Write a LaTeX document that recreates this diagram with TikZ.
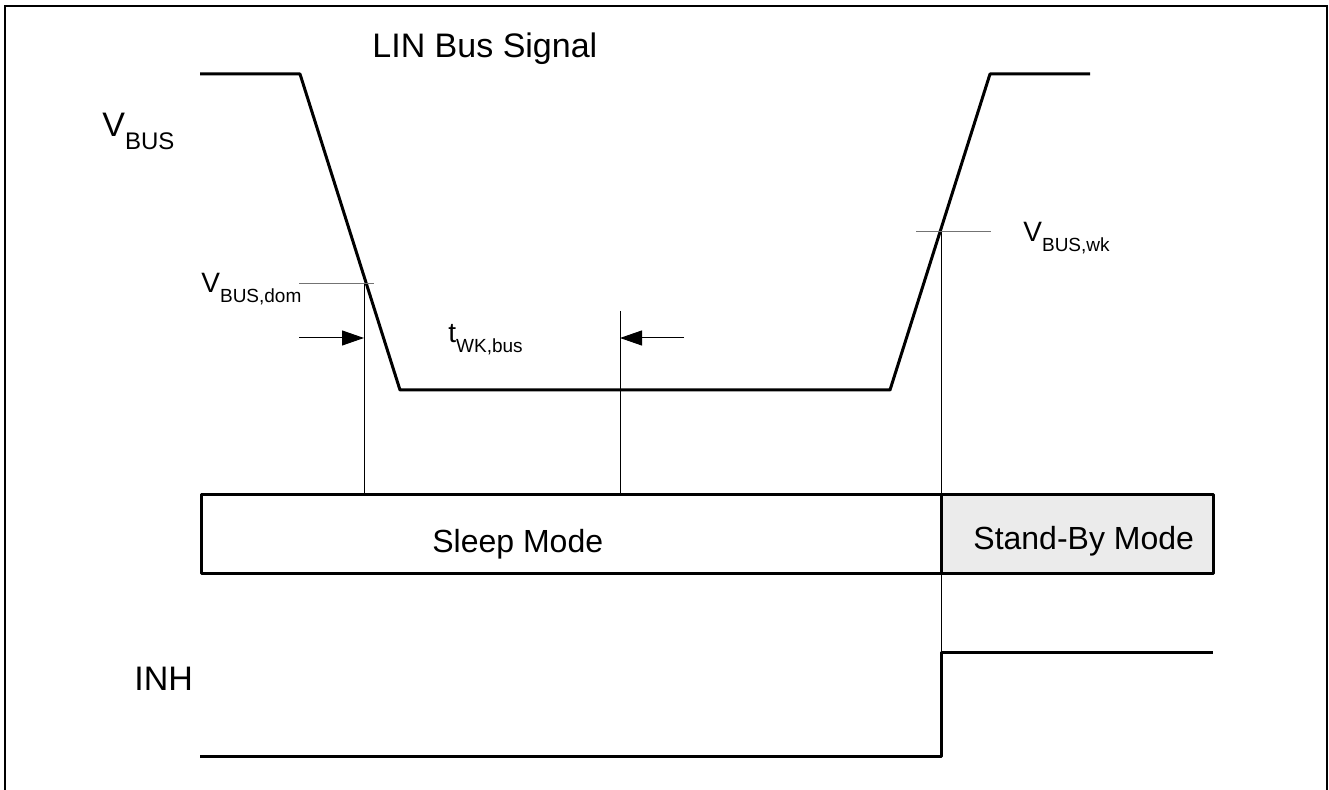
\documentclass[tikz,border=0pt]{standalone}
\usepackage{fontspec}
\setmainfont{Liberation Sans}
\usetikzlibrary{arrows.meta}
\newcommand{\bigsub}[1]{\raisebox{-6.5pt}{\fontsize{12}{12}\selectfont #1}}
\newcommand{\smallsub}[1]{\raisebox{-5pt}{\fontsize{9.5}{9.5}\selectfont #1}}
\tikzset{
	signal/.style={line width=1.5pt,line join=round},
	marker/.style={line width=0.5pt},
	level/.style={line width=0.5pt,black!55},
	timearrow/.style={line width=0.5pt,-{Triangle[length=11pt,width=7.5pt]}},
	biglabel/.style={anchor=base west,inner sep=0pt,font=\fontsize{17}{17}\selectfont},
	smalllabel/.style={anchor=base west,inner sep=0pt,font=\fontsize{14}{14}\selectfont},
	modelabel/.style={anchor=base west,inner sep=0pt,font=\fontsize{16}{16}\selectfont}
}
\begin{document}
\begin{tikzpicture}[x=0.5pt,y=-0.5pt]
		\useasboundingbox (0,0) rectangle (1329,790);
		\draw[line width=1pt] (5,790) -- (5,6) -- (1327,6) -- (1327,790);

		% bus signal
		\coordinate (b0) at (200,74);
		\coordinate (b1) at (300,74);
		\coordinate (b2) at (400,390);
		\coordinate (b3) at (890,390);
		\coordinate (b4) at (990,74);
		\coordinate (b5) at (1090,74);
		\draw[signal] (b0) -- (b1) -- (b2) -- (b3) -- (b4) -- (b5);

		% thresholds and timing marks
		\coordinate (dom0) at (299,284);
		\coordinate (dom1) at (374,284);
		\coordinate (domtop) at (364,284);
		\coordinate (dombot) at (364,495);
		\coordinate (wk0) at (916,232);
		\coordinate (wk1) at (991,232);
		\coordinate (wktop) at (941,232);
		\coordinate (wkbot) at (941,653);
		\coordinate (endtop) at (620,311);
		\coordinate (endbot) at (620,495);
		\coordinate (arr0) at (299,338);
		\coordinate (arr1) at (364,338);
		\coordinate (arr2) at (684,338);
		\coordinate (arr3) at (620,338);
		\draw[level] (dom0) -- (dom1);
		\draw[level] (wk0) -- (wk1);
		\draw[marker] (domtop) -- (dombot);
		\draw[marker] (wktop) -- (wkbot);
		\draw[marker] (endtop) -- (endbot);
		\draw[timearrow] (arr0) -- (arr1);
		\draw[timearrow] (arr2) -- (arr3);

		% modes
		\draw[signal,fill=black!8] (941,495) rectangle (1213,574);
		\draw[signal] (201,495) rectangle (941,574);

		% INH
		\coordinate (i0) at (200,757);
		\coordinate (i1) at (941,757);
		\coordinate (i2) at (941,653);
		\coordinate (i3) at (1213,653);
		\draw[signal] (i0) -- (i1) -- (i2) -- (i3);

		\begin{scope}[every node/.style={biglabel}]
			\node (title) at (372,58) {LIN Bus Signal};
			\node (vbus) at (102,137) {V\bigsub{BUS}};
			\node (inh) at (134,691) {INH};
		\end{scope}

		\begin{scope}[every node/.style={smalllabel}]
			\node (vdom) at (201,293) {V\smallsub{BUS,dom}};
			\node (twk) at (448,343) {t\smallsub{WK,bus}};
			\node (vwk) at (1023,242) {V\smallsub{BUS,wk}};
		\end{scope}

		\begin{scope}[every node/.style={modelabel}]
			\node (sleep) at (432,553) {Sleep Mode};
			\node (standby) at (973,550) {Stand-By Mode};
		\end{scope}
	\end{tikzpicture}
\end{document}
